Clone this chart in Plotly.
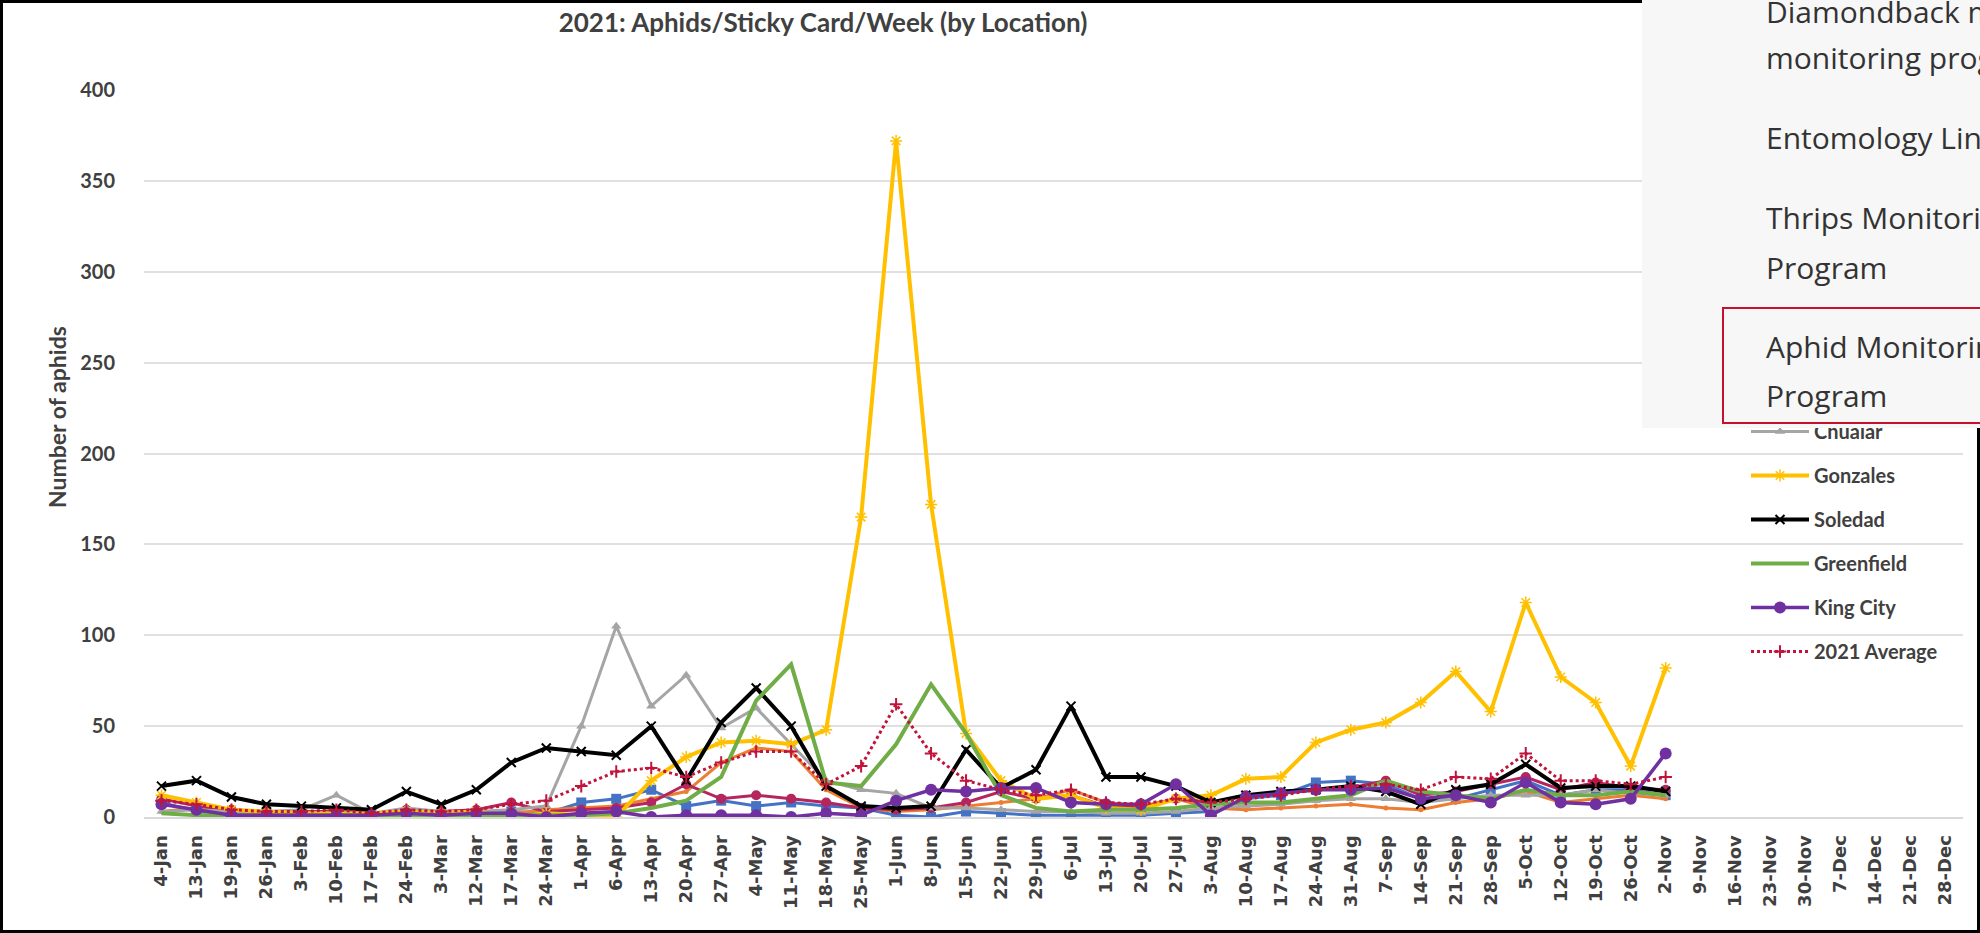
import plotly.graph_objects as go

# Weekly sticky-card dates (category labels on the x axis)
weeks = ["4-Jan", "13-Jan", "19-Jan", "26-Jan", "3-Feb", "10-Feb", "17-Feb", "24-Feb",
         "3-Mar", "12-Mar", "17-Mar", "24-Mar", "1-Apr", "6-Apr", "13-Apr", "20-Apr",
         "27-Apr", "4-May", "11-May", "18-May", "25-May", "1-Jun", "8-Jun", "15-Jun",
         "22-Jun", "29-Jun", "6-Jul", "13-Jul", "20-Jul", "27-Jul", "3-Aug", "10-Aug",
         "17-Aug", "24-Aug", "31-Aug", "7-Sep", "14-Sep", "21-Sep", "28-Sep", "5-Oct",
         "12-Oct", "19-Oct", "26-Oct", "2-Nov", "9-Nov", "16-Nov", "23-Nov", "30-Nov",
         "7-Dec", "14-Dec", "21-Dec", "28-Dec"]

# Aphids per sticky card per week, 4-Jan through 2-Nov
castroville = [8, 3, 2, 2, 2, 2, 2, 2, 2, 2, 3, 2, 8, 10, 15, 6, 9, 6, 8, 6,
               5, 1, 0, 3, 2, 1, 1, 1, 1, 2, 3, 10, 12, 19, 20, 18, 10, 10, 15, 20,
               12, 15, 15, 12]
salinas = [3, 5, 3, 2, 1, 2, 1, 4, 2, 3, 2, 4, 5, 6, 10, 14, 30, 38, 36, 15,
           5, 3, 4, 6, 8, 10, 15, 8, 6, 10, 5, 4, 5, 6, 7, 5, 4, 8, 10, 14,
           8, 10, 12, 10]
spreckels = [10, 6, 4, 3, 3, 3, 2, 4, 3, 4, 8, 3, 4, 5, 8, 18, 10, 12, 10, 8,
             5, 4, 5, 8, 14, 10, 12, 6, 5, 10, 8, 12, 13, 15, 16, 20, 12, 14, 18, 22,
             15, 19, 16, 15]
chualar = [3, 4, 3, 3, 4, 12, 2, 5, 3, 3, 4, 6, 50, 105, 61, 78, 49, 60, 40, 20,
           15, 13, 5, 5, 4, 3, 3, 2, 2, 3, 5, 6, 7, 9, 10, 10, 8, 10, 12, 12,
           12, 15, 13, 12]
gonzales = [12, 8, 4, 3, 2, 2, 2, 3, 2, 3, 0, 2, 1, 0, 20, 33, 41, 42, 40, 48,
            165, 372, 172, 46, 20, 10, 12, 5, 4, 10, 12, 21, 22, 41, 48, 52, 63, 80, 58, 118,
            77, 63, 28, 82]
soledad = [17, 20, 11, 7, 6, 5, 4, 14, 7, 15, 30, 38, 36, 34, 50, 20, 52, 71, 50, 17,
           6, 5, 6, 37, 16, 26, 61, 22, 22, 17, 8, 12, 14, 15, 17, 14, 7, 15, 18, 29,
           16, 17, 17, 14]
greenfield = [2, 1, 1, 1, 1, 1, 1, 1, 1, 1, 1, 1, 1, 2, 5, 9, 22, 64, 84, 19,
              17, 40, 73, 46, 12, 5, 3, 4, 4, 5, 7, 8, 8, 10, 12, 20, 14, 12, 10, 15,
              12, 12, 14, 12]
king_city = [7, 4, 1, 1, 1, 1, 1, 2, 1, 2, 2, 0, 2, 3, 0, 1, 1, 1, 0, 2,
             1, 9, 15, 14, 16, 16, 8, 7, 7, 18, 1, 11, 13, 15, 15, 16, 10, 12, 8, 19,
             8, 7, 10, 35]
average_2021 = [9, 7, 4, 3, 3, 4, 2, 4, 3, 4, 7, 9, 17, 25, 27, 22, 30, 36, 36, 18,
                28, 62, 35, 20, 15, 12, 15, 8, 7, 10, 8, 10, 12, 15, 17, 18, 15, 22, 21, 35,
                20, 20, 18, 22]

y_ticks = [0, 50, 100, 150, 200, 250, 300, 350, 400]

W, H = 1980, 933
PL, PR, PT, PB = 144, 1963, 90, 817   # plot area in pixels


def px(x):
    return (x - PL) / (PR - PL)


def py(y):
    return (PB - y) / (PB - PT)


series = [
    ("Castroville", castroville, dict(color="#4472C4", width=3), dict(symbol="square", size=10), False),
    ("Salinas", salinas, dict(color="#ED7D31", width=3), dict(symbol="circle", size=5), False),
    ("Spreckels", spreckels, dict(color="#B5255E", width=3), dict(symbol="circle", size=10), False),
    ("Chualar", chualar, dict(color="#A5A5A5", width=3), dict(symbol="triangle-up", size=9), True),
    ("Gonzales", gonzales, dict(color="#FFC000", width=4), dict(symbol="asterisk-open", size=10,
                                                               line=dict(width=1.5, color="#FFC000")), True),
    ("Soledad", soledad, dict(color="#000000", width=4), dict(symbol="x-thin-open", size=9,
                                                             line=dict(width=2, color="#000000")), True),
    ("Greenfield", greenfield, dict(color="#70AD47", width=4), None, True),
    ("King City", king_city, dict(color="#7030A0", width=3.5), dict(symbol="circle", size=12), True),
    ("2021 Average", average_2021, dict(color="#C0143C", width=3, dash="dot"),
     dict(symbol="cross-thin-open", size=9, line=dict(width=2, color="#C0143C")), True),
]

x_pos = list(range(len(weeks)))

fig = go.Figure()
for name, vals, line, marker, show in series:
    fig.add_trace(go.Scatter(
        x=x_pos[:len(vals)], y=vals, name=name,
        mode="lines+markers" if marker else "lines",
        line=line, marker=marker, showlegend=show, legendgroup=name,
    ))

label_font = dict(family="Lato", color="#404040", weight="bold")

fig.update_layout(
    width=W, height=H,
    margin=dict(l=PL, r=W - PR, t=PT, b=H - PB, pad=0),
    paper_bgcolor="white", plot_bgcolor="white",
    title=dict(text="2021: Aphids/Sticky Card/Week (by Location)",
               x=px(823), xref="paper", xanchor="center",
               y=1 - 23 / H, yref="container", yanchor="middle",
               font=dict(size=26, **label_font)),
    xaxis=dict(range=[-0.5, len(weeks) - 0.5], tickmode="array", tickvals=x_pos, ticktext=weeks,
               tickangle=-90, showgrid=False, zeroline=False, showline=True,
               linecolor="#d9d9d9", linewidth=2, ticks="", ticklabelstandoff=9,
               tickfont=dict(family="DejaVu Sans", size=18, color="#404040", weight="bold")),
    yaxis=dict(range=[0, 400], tickvals=y_ticks, showgrid=True, gridcolor="#e0e0e0", gridwidth=2,
               zeroline=False, showline=False, ticks="", ticklabelstandoff=28,
               tickfont=dict(size=20, **label_font)),
    legend=dict(x=px(1746), y=py(412), xanchor="left", yanchor="top",
                bgcolor="rgba(0,0,0,0)", itemwidth=58, tracegroupgap=15,
                font=dict(size=20, **label_font)),
    showlegend=True,
)

# frame around the chart image
fig.add_shape(type="rect", xref="paper", yref="paper",
              x0=px(1.5), x1=px(W - 1.5), y0=py(H - 1.5), y1=py(1.5),
              line=dict(color="black", width=3), layer="above")

menu_font = dict(family="Open Sans", size=30, color="#333333")
annotations = [
    dict(text="Number of aphids", textangle=-90, x=px(57), y=py(417), xref="paper", yref="paper",
         xanchor="center", yanchor="middle", showarrow=False, font=dict(size=23, **label_font)),
    # dropdown navigation panel over the top-right corner
    dict(text=" ", x=px(1642), y=py(-30), xref="paper", yref="paper", xanchor="left", yanchor="top",
         width=360, height=458, bgcolor="#f7f7f7", borderpad=0, borderwidth=0, showarrow=False),
    dict(text=" ", x=px(1722), y=py(307), xref="paper", yref="paper", xanchor="left", yanchor="top",
         width=300, height=113, bgcolor="rgba(0,0,0,0)", bordercolor="#c8102e", borderwidth=2,
         borderpad=0, showarrow=False),
]
menu_lines = [("Diamondback moth", 11), ("monitoring program", 57), ("Entomology Links", 138),
              ("Thrips Monitoring", 218), ("Program", 267), ("Aphid Monitoring", 346), ("Program", 395)]
for txt, yc in menu_lines:
    annotations.append(dict(text=txt, x=px(1764), y=py(yc), xref="paper", yref="paper",
                            xanchor="left", yanchor="middle", showarrow=False, font=menu_font))
fig.update_layout(annotations=annotations)

fig.write_html("out.html")
